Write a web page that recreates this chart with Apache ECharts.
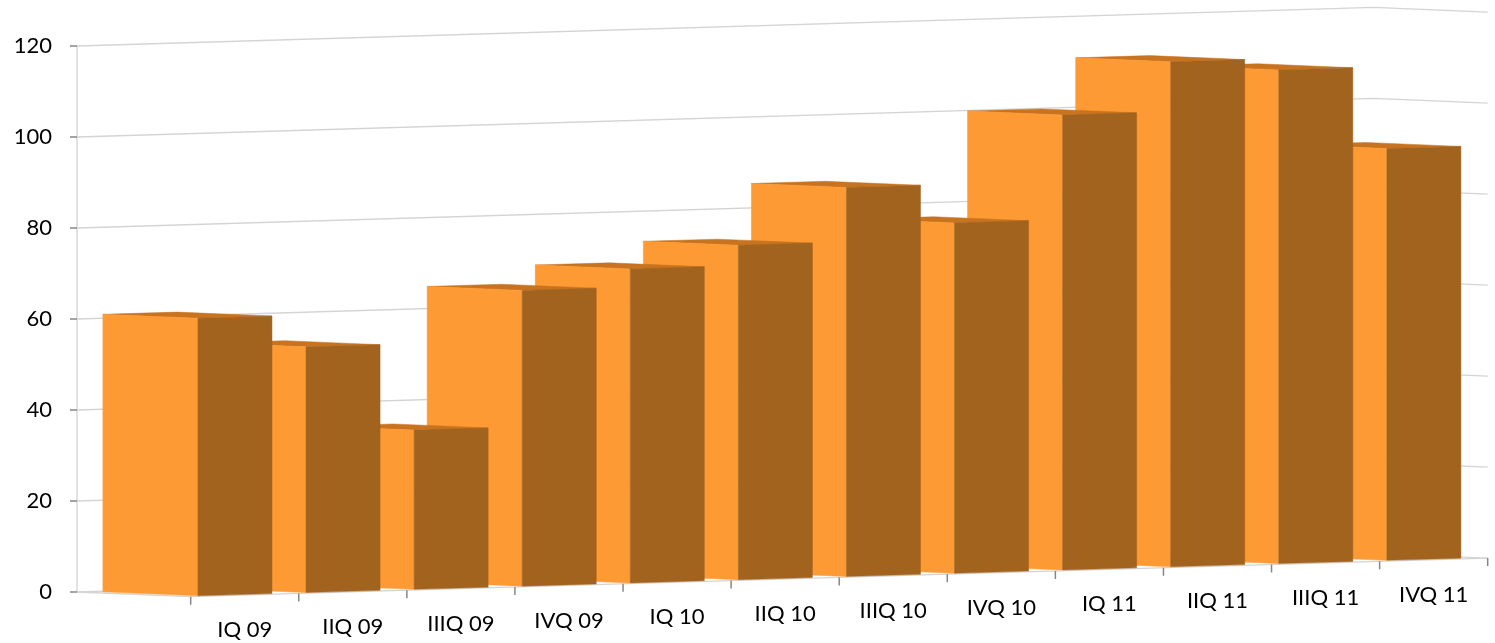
<!DOCTYPE html>
<html>
<head>
<meta charset="utf-8">
<script src="https://cdn.jsdelivr.net/npm/echarts@6/dist/echarts.min.js"></script>
<style>
  html, body { margin: 0; padding: 0; background: #ffffff; }
  #chart { width: 1495px; height: 643px; }
</style>
</head>
<body>
<div id="chart"></div>
<script>
// Quarterly figures
const categories = ['IQ 09', 'IIQ 09', 'IIIQ 09', 'IVQ 09', 'IQ 10', 'IIQ 10',
                    'IIIQ 10', 'IVQ 10', 'IQ 11', 'IIQ 11', 'IIIQ 11', 'IVQ 11'];
const values = [61, 54, 35, 65, 69, 73.5, 85.5, 77, 100, 111, 108.5, 90.5];
const gridValues = [0, 20, 40, 60, 80, 100, 120];

// Oblique 3-D projection: the floor recedes along the category axis and
// the depth axis comes forward to the lower right.
const SKEW_PER_CAT = -3.22;   // vertical drift per category step
const DEPTH_X = 113.7;        // full floor depth, horizontal component
const DEPTH_Y = 4.7;          // full floor depth, vertical component
const BAR_GAP = 0.1575;       // category gap on each side of a bar
const DEPTH_BACK = 0.078;
const DEPTH_FRONT = 0.914;

const FRONT_COLOR = '#A2631F';
const SIDE_COLOR = '#FE9A34';
const TOP_COLOR = '#C7731F';
const WALL_LINE = '#D4D4D4';

function project(api, c, v, d) {
  const p = api.coord([c, v]);
  return [p[0] + d * DEPTH_X, p[1] + SKEW_PER_CAT * c + d * DEPTH_Y];
}

const chart = echarts.init(document.getElementById('chart'), null, { renderer: 'canvas' });

const option = {
  animation: false,
  backgroundColor: '#ffffff',
  textStyle: { fontFamily: 'Lato' },
  grid: { left: 77, right: 121, top: 46, bottom: 51, containLabel: false },
  xAxis: { type: 'value', min: 0, max: categories.length, show: false },
  yAxis: {
    type: 'value', min: 0, max: 120, interval: 20,
    axisLine: { show: true, lineStyle: { color: '#D9D9D9', width: 1.5 } },
    axisTick: { show: true, length: 7, lineStyle: { color: '#868686', width: 1.5 } },
    axisLabel: { color: '#000000', fontSize: 22, fontFamily: 'Lato', margin: 25 },
    splitLine: { show: false }
  },
  series: [
    {
      // back wall and right wall gridlines
      type: 'custom',
      z: 1,
      clip: false,
      silent: true,
      data: gridValues.map(v => [0, v]),
      renderItem: function (params, api) {
        const v = api.value(1);
        const n = categories.length;
        const a = project(api, 0, v, 0);
        const b = project(api, n, v, 0);
        const c = project(api, n, v, 1);
        return {
          type: 'polyline',
          shape: { points: [a, b, c] },
          style: { stroke: WALL_LINE, lineWidth: 1.3, fill: null }
        };
      }
    },
    {
      // floor outline: left edge and front edge with category ticks
      type: 'custom',
      z: 1,
      clip: false,
      silent: true,
      data: [[0, 0]],
      renderItem: function (params, api) {
        const n = categories.length;
        const children = [];
        children.push({
          type: 'polyline',
          shape: { points: [project(api, 0, 0, 0), project(api, 0, 0, 1), project(api, n, 0, 1)] },
          style: { stroke: WALL_LINE, lineWidth: 1.3, fill: null }
        });
        for (let k = 0; k <= n; k++) {
          const p = project(api, k, 0, 1);
          children.push({
            type: 'line',
            shape: { x1: p[0], y1: p[1], x2: p[0], y2: p[1] + 8 },
            style: { stroke: '#868686', lineWidth: 1.5 }
          });
        }
        return { type: 'group', children: children };
      }
    },
    {
      // 3-D columns
      type: 'custom',
      z: 2,
      clip: false,
      data: values.map((v, i) => [i, v]),
      renderItem: function (params, api) {
        const i = api.value(0);
        const v = api.value(1);
        const c0 = i + BAR_GAP, c1 = i + 1 - BAR_GAP;
        const blb = project(api, c0, 0, DEPTH_BACK);
        const flb = project(api, c0, 0, DEPTH_FRONT);
        const frb = project(api, c1, 0, DEPTH_FRONT);
        const blt = project(api, c0, v, DEPTH_BACK);
        const flt = project(api, c0, v, DEPTH_FRONT);
        const frt = project(api, c1, v, DEPTH_FRONT);
        const brt = project(api, c1, v, DEPTH_BACK);
        const base = (categories.length - i) * 3;
        return {
          type: 'group',
          children: [
            { type: 'polygon', z2: base, shape: { points: [blt, flt, frt, brt] },
              style: { fill: TOP_COLOR, stroke: TOP_COLOR, lineWidth: 0.5 } },
            { type: 'polygon', z2: base + 1, shape: { points: [blb, flb, flt, blt] },
              style: { fill: SIDE_COLOR, stroke: SIDE_COLOR, lineWidth: 0.5 } },
            { type: 'polygon', z2: base + 2, shape: { points: [flb, frb, frt, flt] },
              style: { fill: FRONT_COLOR, stroke: FRONT_COLOR, lineWidth: 0.5 } }
          ]
        };
      }
    },
    {
      // category labels along the front edge of the floor
      type: 'custom',
      z: 3,
      clip: false,
      silent: true,
      data: categories.map((name, i) => [i, 0]),
      renderItem: function (params, api) {
        const i = api.value(0);
        const p = project(api, i + 0.5, 0, 1);
        return {
          type: 'text',
          x: p[0],
          y: p[1] + 35,
          style: {
            text: categories[i],
            fill: '#000000',
            font: '22px Lato',
            align: 'center',
            verticalAlign: 'middle'
          }
        };
      }
    }
  ]
};

chart.setOption(option);
</script>
</body>
</html>
